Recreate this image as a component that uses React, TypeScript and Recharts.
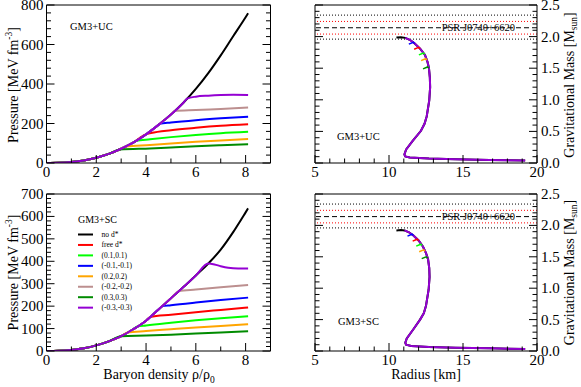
import React from 'react';
import { LineChart, Line, XAxis, YAxis, ReferenceLine } from 'recharts';

type Pt = [number, number];

const FONT = '"Liberation Serif", "Times New Roman", Times, serif';

// legend order == drawing order (purple ends up on top)
const seriesNames = ['no d*', 'free d*', '(0.1,0.1)', '(-0.1,-0.1)', '(0.2,0.2)', '(-0.2,-0.2)', '(0.3,0.3)', '(-0.3,-0.3)'];
const seriesColors = ['#000000', '#ff0000', '#00ff00', '#0000ff', '#ffa500', '#bc8f8f', '#008b00', '#9400d3'];

// ---- pressure [MeV fm^-3] vs rho/rho0, GM3+UC ----
const ucNoDstar: Pt[] = [[0, 0], [0.5, 1], [1, 5], [1.5, 13], [2, 27], [2.5, 46], [3, 72], [3.5, 104], [4, 145], [4.5, 193], [5, 245], [5.5, 305], [6, 375], [6.5, 455], [7, 545], [7.5, 642], [8, 738], [8.1, 758]];
const ucFree: Pt[] = [[4, 146], [4.2, 152], [5, 166], [6, 178], [7, 188], [8.1, 196]];
const ucP01: Pt[] = [[3.6, 112], [4.16, 120], [5, 131], [6, 142], [7, 151], [8.1, 158]];
const ucM01: Pt[] = [[4.55, 198], [5, 205], [6, 217], [7, 226], [8.1, 234]];
const ucP02: Pt[] = [[3.2, 84], [4.16, 91], [5, 99], [6, 107], [7, 114], [8.1, 121]];
const ucM02: Pt[] = [[5.15, 263], [6, 268], [7, 274], [8.1, 281]];
const ucP03: Pt[] = [[2.95, 68], [4.16, 74], [5, 79], [6, 85], [7, 90], [8.1, 95]];
const ucM03: Pt[] = [[5.65, 326], [6, 336], [6.5, 341], [7, 344], [7.5, 345], [8.1, 344]];

// ---- pressure vs rho/rho0, GM3+SC ----
const scNoDstar: Pt[] = [[0, 0], [0.5, 1], [1, 5], [1.5, 12], [2, 25], [2.5, 43], [3, 66], [3.5, 98], [4, 135], [4.5, 185], [5, 235], [5.5, 285], [6, 337], [6.5, 390], [7, 452], [7.5, 530], [8, 618], [8.1, 636]];
const scFree: Pt[] = [[4.17, 152], [5, 162], [6, 173], [7, 183], [8.1, 194]];
const scP01: Pt[] = [[3.65, 109], [4, 114], [5, 126], [6, 137], [7, 146], [8.1, 155]];
const scM01: Pt[] = [[4.64, 199], [5, 204], [6, 216], [7, 227], [8.1, 238]];
const scP02: Pt[] = [[3.25, 82], [4, 89], [5, 97], [6, 105], [7, 112], [8.1, 119]];
const scM02: Pt[] = [[5.32, 267], [6, 274], [7, 284], [8.1, 294]];
const scP03: Pt[] = [[3, 66], [4, 69], [5, 73], [6, 78], [7, 83], [8.1, 88]];
const scM03: Pt[] = [[6.5, 390], [6.75, 386], [7, 378], [7.3, 371], [7.7, 368], [8.1, 368]];

// ---- mass-radius, [R km, M Msun] ----
const ucMR: Pt[] = [[19.2, 0.038], [16.8, 0.048], [14.5, 0.06], [12.7, 0.07], [11.4, 0.088], [11.1, 0.105], [11.04, 0.135], [11.16, 0.215], [11.6, 0.35], [12.16, 0.51], [12.4, 0.62], [12.55, 0.74], [12.72, 0.99], [12.78, 1.2], [12.76, 1.35], [12.7, 1.5], [12.6, 1.6], [12.43, 1.71], [12.1, 1.81], [11.7, 1.9], [11.4, 1.95], [11.1, 1.98], [10.8, 1.99], [10.5, 1.985]];
const ucHookFree: Pt[] = [[12.1, 1.81], [12.0, 1.83], [11.7, 1.8]];
const ucHookP01: Pt[] = [[12.42, 1.72], [12.32, 1.74], [12.02, 1.71]];
const ucHookM01: Pt[] = [[11.74, 1.89], [11.64, 1.91], [11.34, 1.88]];
const ucHookP02: Pt[] = [[12.57, 1.63], [12.47, 1.65], [12.17, 1.62]];
const ucHookP03: Pt[] = [[12.7, 1.5], [12.6, 1.52], [12.3, 1.49]];

const scMR: Pt[] = [[19.2, 0.032], [16.8, 0.042], [14.5, 0.053], [12.7, 0.063], [11.5, 0.08], [11.15, 0.1], [11.1, 0.13], [11.2, 0.2], [11.6, 0.33], [12.1, 0.5], [12.35, 0.6], [12.5, 0.72], [12.68, 0.98], [12.74, 1.18], [12.72, 1.32], [12.64, 1.46], [12.5, 1.56], [12.3, 1.66], [12.0, 1.76], [11.65, 1.84], [11.35, 1.89], [11.05, 1.92], [10.8, 1.925], [10.5, 1.92]];
const scHookFree: Pt[] = [[12.0, 1.76], [11.9, 1.78], [11.6, 1.75]];
const scHookP01: Pt[] = [[12.24, 1.68], [12.14, 1.7], [11.84, 1.67]];
const scHookM01: Pt[] = [[11.65, 1.84], [11.55, 1.86], [11.25, 1.83]];
const scHookP02: Pt[] = [[12.44, 1.59], [12.34, 1.61], [12.04, 1.58]];
const scHookP03: Pt[] = [[12.61, 1.48], [12.51, 1.5], [12.21, 1.47]];

// PSR J0740+6620 mass band
const psrCentral = 2.14;
const psrInner = [2.04, 2.24];
const psrOuter = [1.96, 2.34];

const densityMajor = [0, 2, 4, 6, 8];
const radiusMajor = [5, 10, 15, 20];
const massMajor = [0, 0.5, 1, 1.5, 2, 2.5];
const ucPressureMajor = [0, 200, 400, 600, 800];
const scPressureMajor = [0, 100, 200, 300, 400, 500, 600, 700];

const steps = (a: number, b: number, s: number) =>
  Array.from({ length: Math.round((b - a) / s) + 1 }, (_, i) => +(a + i * s).toFixed(6));

const toXY = (pts: Pt[]) => pts.map(([x, y]) => ({ x, y }));
// a d* branch follows the no-d* curve up to its onset, then its own points
const withBase = (base: Pt[], branch: Pt[]) =>
  toXY([...base.filter((p) => p[0] < branch[0][0] - 1e-9), ...branch]);

type Side = 'bottom' | 'top' | 'left' | 'right';

function makeTick(side: Side, majors: number[], fmt?: (v: number) => string) {
  return function Tick(props: any) {
    const { x, y, payload } = props;
    const v = Number(payload.value);
    const major = majors.some((m) => Math.abs(m - v) < 1e-6);
    const len = major ? 8 : 4.5;
    let x2 = x, y2 = y, tx = x, ty = y;
    let anchor: 'start' | 'middle' | 'end' = 'middle';
    if (side === 'bottom') { y2 = y - len; ty = y + 14; }
    else if (side === 'top') { y2 = y + len; }
    else if (side === 'left') { x2 = x + len; tx = x - 3; ty = y + 5; anchor = 'end'; }
    else { x2 = x - len; tx = x + 4; ty = y + 5; anchor = 'start'; }
    return (
      <g>
        <line x1={x} y1={y} x2={x2} y2={y2} stroke="#000" strokeWidth={1} />
        {major && fmt ? (
          <text x={tx} y={ty} textAnchor={anchor} fontSize={15} fontFamily={FONT} fill="#000">
            {fmt(v)}
          </text>
        ) : null}
      </g>
    );
  };
}

interface PanelProps {
  // plot-area edges in page pixels
  box: { top: number; left: number; right: number; bottom: number };
  xDomain: [number, number];
  xMajor: number[];
  xAll: number[];
  xFmt: (v: number) => string;
  yDomain: [number, number];
  yMajor: number[];
  yAll: number[];
  yFmt: (v: number) => string;
  ySide: 'left' | 'right';
  children: React.ReactNode;
}

const W = 581;
const H = 387;

function Panel(p: PanelProps) {
  const other = p.ySide === 'left' ? 'right' : 'left';
  // every axis is 1px thick (zero-size axes are not drawn), so the margins give 1px back
  const margin = {
    top: p.box.top - 1,
    left: p.box.left - 1,
    right: W - p.box.right - 1,
    bottom: H - p.box.bottom - 1,
  };
  const common = { type: 'number' as const, allowDataOverflow: true, interval: 0 as const, tickSize: 0, tickMargin: 0, tickLine: false, axisLine: { stroke: '#000' } };
  return (
    <div style={{ position: 'absolute', left: 0, top: 0 }}>
      <LineChart width={W} height={H} margin={margin}>
        <XAxis xAxisId="b" dataKey="x" {...common} domain={p.xDomain} ticks={p.xAll} height={1} tick={makeTick('bottom', p.xMajor, p.xFmt)} />
        <XAxis xAxisId="t" orientation="top" {...common} domain={p.xDomain} ticks={p.xAll} height={1} tick={makeTick('top', p.xMajor)} />
        <YAxis yAxisId="v" orientation={p.ySide} {...common} domain={p.yDomain} ticks={p.yAll} width={1} tick={makeTick(p.ySide, p.yMajor, p.yFmt)} />
        <YAxis yAxisId="m" orientation={other} {...common} domain={p.yDomain} ticks={p.yAll} width={1} tick={makeTick(other, p.yMajor)} />
        {p.children}
      </LineChart>
    </div>
  );
}

function pressureLines(base: Pt[], branches: Pt[][]) {
  return seriesNames.map((name, i) => (
    <Line
      key={name}
      xAxisId="b"
      yAxisId="v"
      name={name}
      data={i === 0 ? toXY(base) : withBase(base, branches[i - 1])}
      dataKey="y"
      type="monotone"
      stroke={seriesColors[i]}
      strokeWidth={2}
      dot={false}
      isAnimationActive={false}
    />
  ));
}

function massLines(main: Pt[], hooks: (Pt[] | null)[]) {
  const out: React.ReactNode[] = [
    <Line key="main" xAxisId="b" yAxisId="v" data={toXY(main)} dataKey="y" type="linear" stroke={seriesColors[0]} strokeWidth={2} dot={false} isAnimationActive={false} />,
    <Line key="m03" xAxisId="b" yAxisId="v" data={toXY(main.slice(0, -2))} dataKey="y" type="linear" stroke={seriesColors[7]} strokeWidth={2} dot={false} isAnimationActive={false} />,
  ];
  hooks.forEach((h, i) => {
    if (!h) return;
    out.push(
      <Line key={`h${i}`} xAxisId="b" yAxisId="v" data={toXY(h)} dataKey="y" type="linear" stroke={seriesColors[i + 1]} strokeWidth={1.5} dot={false} isAnimationActive={false} />
    );
  });
  return out;
}

function psrLines() {
  return [
    ...psrOuter.map((v) => (
      <ReferenceLine key={`o${v}`} xAxisId="b" yAxisId="v" y={v} stroke="#000" strokeWidth={1} strokeDasharray="1 2" />
    )),
    ...psrInner.map((v) => (
      <ReferenceLine key={`i${v}`} xAxisId="b" yAxisId="v" y={v} stroke="#ff0000" strokeWidth={1} strokeDasharray="1 2" />
    )),
    <ReferenceLine
      key="c"
      xAxisId="b"
      yAxisId="v"
      y={psrCentral}
      stroke="#000"
      strokeWidth={1}
      strokeDasharray="5 3"
      label={{ value: 'PSR J0740+6620', position: 'insideRight', offset: 22, fontSize: 10.5, fill: '#000', fontFamily: FONT }}
    />,
  ];
}

const txt = { fontFamily: FONT, fill: '#000' };

function pressureTitle(cy: number) {
  return (
    <text transform="rotate(-90)" x={-cy} y={18} textAnchor="middle" fontSize={14} {...txt}>
      Pressure [MeV fm<tspan dy={-6} fontSize={9.5}>-3</tspan>
      <tspan dy={6}>]</tspan>
    </text>
  );
}

function massTitle(cy: number) {
  return (
    <text transform="rotate(-90)" x={-cy} y={574} textAnchor="middle" fontSize={14} {...txt}>
      Gravitational Mass [M<tspan dy={3} fontSize={9.5}>sun</tspan>
      <tspan dy={-3}>]</tspan>
    </text>
  );
}

const fmtInt = (v: number) => String(v);
const fmtMass = (v: number) => v.toFixed(1);

export default function App() {
  const topB = { top: 5, bottom: 163 };
  const botB = { top: 194, bottom: 351 };
  const leftB = { left: 46.5, right: 270.5 };
  const rightB = { left: 315, right: 537 };
  const massAxes = {
    xDomain: [5, 20] as [number, number],
    xMajor: radiusMajor,
    xAll: steps(5, 20, 1),
    xFmt: fmtInt,
    yDomain: [0, 2.5] as [number, number],
    yMajor: massMajor,
    yAll: steps(0, 2.5, 0.1),
    yFmt: fmtMass,
    ySide: 'right' as const,
  };
  return (
    <div style={{ position: 'absolute', left: 0, top: 0, width: W, height: H, background: '#fff' }}>
      {/* GM3+UC pressure */}
      <Panel
        box={{ ...topB, ...leftB }}
        xDomain={[0, 9]}
        xMajor={densityMajor}
        xAll={steps(0, 9, 1)}
        xFmt={fmtInt}
        yDomain={[0, 800]}
        yMajor={ucPressureMajor}
        yAll={steps(0, 800, 40)}
        yFmt={fmtInt}
        ySide="left"
      >
        {pressureLines(ucNoDstar, [ucFree, ucP01, ucM01, ucP02, ucM02, ucP03, ucM03])}
        <text x={70} y={29.5} fontSize={10.5} {...txt}>GM3+UC</text>
        {pressureTitle(85)}
      </Panel>

      {/* GM3+UC mass-radius */}
      <Panel box={{ ...topB, ...rightB }} {...massAxes}>
        {psrLines()}
        {massLines(ucMR, [ucHookFree, ucHookP01, ucHookM01, ucHookP02, null, ucHookP03])}
        <text x={337} y={139.5} fontSize={10.5} {...txt}>GM3+UC</text>
        {massTitle(85)}
      </Panel>

      {/* GM3+SC pressure */}
      <Panel
        box={{ ...botB, ...leftB }}
        xDomain={[0, 9]}
        xMajor={densityMajor}
        xAll={steps(0, 9, 1)}
        xFmt={fmtInt}
        yDomain={[0, 700]}
        yMajor={scPressureMajor}
        yAll={steps(0, 700, 20)}
        yFmt={fmtInt}
        ySide="left"
      >
        {pressureLines(scNoDstar, [scFree, scP01, scM01, scP02, scM02, scP03, scM03])}
        <text x={78} y={222.5} fontSize={10} {...txt}>GM3+SC</text>
        {seriesNames.map((name, i) => (
          <g key={name}>
            <line x1={78} x2={93} y1={234.5 + i * 10.45} y2={234.5 + i * 10.45} stroke={seriesColors[i]} strokeWidth={2} />
            <text x={101.5} y={237 + i * 10.45} fontSize={7.5} {...txt}>{name}</text>
          </g>
        ))}
        {pressureTitle(272.5)}
        <text x={159} y={379} textAnchor="middle" fontSize={14} {...txt}>
          Baryon density ρ/ρ<tspan dy={4} fontSize={9.5}>0</tspan>
        </text>
      </Panel>

      {/* GM3+SC mass-radius */}
      <Panel box={{ ...botB, ...rightB }} {...massAxes}>
        {psrLines()}
        {massLines(scMR, [scHookFree, scHookP01, scHookM01, scHookP02, null, scHookP03])}
        <text x={338} y={325} fontSize={10.5} {...txt}>GM3+SC</text>
        {massTitle(272.5)}
        <text x={426} y={379} textAnchor="middle" fontSize={14} {...txt}>Radius [km]</text>
      </Panel>
    </div>
  );
}
